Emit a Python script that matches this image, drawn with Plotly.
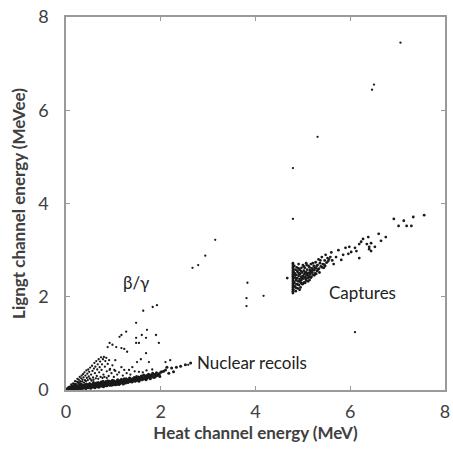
import plotly.graph_objects as go

# Nuclear recoil band (dense)
nr_pts = [
    (0.01, 0.00), (0.03, 0.01), (0.04, 0.00), (0.06, 0.02), (0.07, 0.01), (0.09, 0.03),
    (0.11, 0.01), (0.12, 0.04), (0.14, 0.02), (0.16, 0.05), (0.17, 0.01), (0.19, 0.03),
    (0.21, 0.06), (0.22, 0.02), (0.24, 0.04), (0.26, 0.07), (0.27, 0.03), (0.29, 0.05),
    (0.31, 0.09), (0.32, 0.02), (0.34, 0.06), (0.36, 0.04), (0.37, 0.08), (0.39, 0.11),
    (0.41, 0.05), (0.42, 0.03), (0.44, 0.07), (0.46, 0.10), (0.47, 0.05), (0.49, 0.12),
    (0.51, 0.08), (0.52, 0.04), (0.54, 0.10), (0.56, 0.06), (0.57, 0.13), (0.59, 0.09),
    (0.61, 0.05), (0.62, 0.11), (0.64, 0.15), (0.66, 0.08), (0.67, 0.12), (0.69, 0.06),
    (0.71, 0.10), (0.72, 0.14), (0.74, 0.17), (0.76, 0.09), (0.77, 0.12), (0.79, 0.07),
    (0.81, 0.15), (0.82, 0.11), (0.84, 0.18), (0.86, 0.09), (0.87, 0.13), (0.89, 0.16),
    (0.91, 0.11), (0.92, 0.19), (0.94, 0.14), (0.96, 0.10), (0.97, 0.17), (0.99, 0.13),
    (1.01, 0.20), (1.02, 0.15), (1.04, 0.11), (1.06, 0.18), (1.07, 0.14), (1.09, 0.22),
    (1.11, 0.16), (1.12, 0.12), (1.14, 0.19), (1.16, 0.15), (1.17, 0.23), (1.19, 0.17),
    (1.21, 0.13), (1.22, 0.21), (1.24, 0.18), (1.26, 0.15), (1.27, 0.24), (1.29, 0.19),
    (1.31, 0.16), (1.32, 0.22), (1.34, 0.26), (1.36, 0.18), (1.37, 0.21), (1.39, 0.17),
    (1.41, 0.24), (1.42, 0.20), (1.44, 0.27), (1.46, 0.19), (1.47, 0.23), (1.49, 0.29),
    (1.51, 0.21), (1.52, 0.25), (1.54, 0.19), (1.56, 0.27), (1.57, 0.23), (1.59, 0.30),
    (1.61, 0.22), (1.62, 0.26), (1.64, 0.32), (1.66, 0.24), (1.67, 0.28), (1.69, 0.22),
    (1.71, 0.31), (1.72, 0.26), (1.74, 0.34), (1.76, 0.28), (1.78, 0.24), (1.79, 0.32),
    (1.81, 0.29), (1.83, 0.36), (1.85, 0.27), (1.87, 0.33), (1.89, 0.30), (1.91, 0.37),
    (1.93, 0.31), (1.96, 0.35), (1.98, 0.29), (2.00, 0.38),
    (0.02, 0.02), (0.05, 0.03), (0.08, 0.05), (0.10, 0.02), (0.13, 0.07), (0.15, 0.03),
    (0.18, 0.08), (0.20, 0.04), (0.23, 0.09), (0.25, 0.05), (0.28, 0.10), (0.30, 0.06),
    (0.33, 0.12), (0.35, 0.07), (0.38, 0.05), (0.40, 0.09), (0.43, 0.13), (0.45, 0.06),
    (0.48, 0.09), (0.50, 0.14), (0.53, 0.07), (0.55, 0.11), (0.58, 0.16), (0.60, 0.08),
    (0.63, 0.12), (0.65, 0.10), (0.68, 0.16), (0.70, 0.13), (0.73, 0.08), (0.75, 0.14),
    (0.78, 0.19), (0.80, 0.10), (0.83, 0.14), (0.85, 0.12), (0.88, 0.20), (0.90, 0.15),
    (0.93, 0.12), (0.95, 0.16), (0.98, 0.21), (1.00, 0.14), (1.03, 0.17), (1.05, 0.13),
    (1.08, 0.20), (1.10, 0.17), (1.13, 0.15), (1.15, 0.21), (1.18, 0.19), (1.20, 0.16),
    (1.23, 0.24), (1.25, 0.20), (1.28, 0.17), (1.30, 0.22), (1.33, 0.19), (1.35, 0.25),
    (1.38, 0.23), (1.40, 0.18), (1.43, 0.22), (1.45, 0.26), (1.48, 0.21), (1.50, 0.25),
    (1.53, 0.28), (1.55, 0.22), (1.58, 0.26), (1.60, 0.29), (1.63, 0.24), (1.65, 0.27),
    (1.68, 0.30), (1.70, 0.25), (1.73, 0.29), (1.75, 0.32), (1.78, 0.27), (1.80, 0.31),
    (1.84, 0.33), (1.88, 0.28), (1.92, 0.34), (1.97, 0.32),
    (0.03, 0.02), (0.06, 0.04), (0.09, 0.02), (0.11, 0.06), (0.14, 0.04), (0.17, 0.06),
    (0.19, 0.10), (0.22, 0.05), (0.24, 0.08), (0.27, 0.06), (0.29, 0.11), (0.32, 0.07),
    (0.34, 0.10), (0.37, 0.06), (0.39, 0.08), (0.42, 0.10), (0.44, 0.12), (0.47, 0.08),
    (0.49, 0.06), (0.52, 0.11), (0.54, 0.08), (0.57, 0.10), (0.59, 0.13), (0.62, 0.09),
    (0.64, 0.07), (0.67, 0.10), (0.69, 0.14), (0.72, 0.11), (0.74, 0.10), (0.77, 0.16),
    (0.79, 0.13), (0.82, 0.09), (0.84, 0.12), (0.87, 0.16), (0.89, 0.13), (0.92, 0.10),
    (0.94, 0.17), (0.97, 0.14), (0.99, 0.11), (1.02, 0.13), (1.04, 0.16), (1.07, 0.12),
    (1.09, 0.15), (1.12, 0.18), (1.14, 0.14), (1.17, 0.16), (1.19, 0.20), (1.22, 0.15),
    (1.24, 0.17),
    (2.02, 0.39), (2.06, 0.40), (2.10, 0.43), (2.13, 0.49), (2.17, 0.36),
    (2.23, 0.47), (2.27, 0.39), (2.33, 0.49), (2.42, 0.51), (2.52, 0.54),
    (2.63, 0.58),
]

# Beta/gamma population
bg_pts = [
    (0.05, 0.06), (0.08, 0.07), (0.11, 0.12), (0.12, 0.08), (0.15, 0.14), (0.17, 0.10),
    (0.19, 0.19), (0.20, 0.13), (0.23, 0.18), (0.24, 0.24), (0.26, 0.15), (0.27, 0.22),
    (0.29, 0.28), (0.30, 0.19), (0.32, 0.25), (0.33, 0.31), (0.35, 0.22), (0.36, 0.34),
    (0.37, 0.27), (0.39, 0.38), (0.40, 0.21), (0.41, 0.31), (0.43, 0.42), (0.44, 0.26),
    (0.45, 0.35), (0.47, 0.44), (0.48, 0.29), (0.49, 0.39), (0.51, 0.48), (0.52, 0.23),
    (0.53, 0.33), (0.55, 0.52), (0.56, 0.41), (0.57, 0.27), (0.59, 0.46), (0.60, 0.58),
    (0.61, 0.36), (0.62, 0.50), (0.64, 0.62), (0.65, 0.30), (0.66, 0.44), (0.67, 0.55),
    (0.69, 0.66), (0.70, 0.38), (0.71, 0.49), (0.72, 0.61), (0.74, 0.70), (0.75, 0.43),
    (0.76, 0.55), (0.78, 0.66), (0.79, 0.33), (0.80, 0.71), (0.82, 0.50), (0.83, 0.62),
    (0.85, 0.69), (0.86, 0.40), (0.88, 0.56), (0.90, 0.30), (0.91, 0.64), (0.93, 0.45),
    (0.96, 0.36), (0.98, 0.53), (1.01, 0.28), (1.04, 0.41), (1.08, 0.33), (1.12, 0.38),
    (1.20, 0.31), (1.28, 0.36), (1.36, 0.33), (1.45, 0.40), (1.62, 0.38), (1.82, 0.44),
    (1.70, 0.42),
    (0.10, 0.07), (0.14, 0.10), (0.18, 0.13), (0.22, 0.12), (0.25, 0.17), (0.28, 0.16),
    (0.31, 0.14), (0.34, 0.18), (0.38, 0.16), (0.42, 0.19), (0.46, 0.21), (0.50, 0.25),
    (0.54, 0.20), (0.58, 0.22), (0.63, 0.25), (0.68, 0.24), (0.73, 0.28), (0.77, 0.26),
    (0.81, 0.28), (0.86, 0.26),
    (1.92, 1.82), (1.83, 1.78), (1.63, 1.70), (1.48, 1.44), (1.27, 1.25),
    (1.17, 1.18), (1.13, 1.14), (1.71, 1.29), (1.60, 1.18), (1.48, 1.12),
    (1.69, 1.12), (1.54, 1.01), (1.90, 1.18), (1.96, 1.01), (0.92, 1.01),
    (0.98, 0.97), (0.88, 0.92), (1.06, 0.92), (1.17, 0.90), (1.23, 0.88),
    (1.29, 0.82), (1.48, 1.01), (1.69, 0.79), (1.58, 0.66), (1.50, 0.60),
    (1.75, 0.60), (1.04, 0.64), (1.17, 0.49), (1.23, 0.43), (1.33, 0.43),
    (1.02, 0.43), (0.92, 0.43), (1.40, 0.49), (1.54, 0.39), (2.20, 0.64),
    (2.10, 0.60), (2.58, 0.54),
]

# Neutron capture population
cap_pts = [
    (4.79, 2.08), (4.79, 2.12), (4.79, 2.16), (4.79, 2.20), (4.79, 2.24),
    (4.79, 2.28), (4.79, 2.32), (4.79, 2.36), (4.79, 2.40), (4.79, 2.44),
    (4.79, 2.48), (4.79, 2.52), (4.79, 2.56), (4.79, 2.60), (4.79, 2.64),
    (4.79, 2.68), (4.79, 2.72),
    (4.80, 2.15), (4.81, 2.31), (4.81, 2.52), (4.82, 2.66), (4.83, 2.22), (4.83, 2.41),
    (4.84, 2.58), (4.85, 2.12), (4.85, 2.35), (4.86, 2.47), (4.87, 2.27), (4.87, 2.63),
    (4.88, 2.40), (4.89, 2.18), (4.89, 2.53), (4.90, 2.33), (4.91, 2.45), (4.91, 2.70),
    (4.92, 2.25), (4.93, 2.38), (4.93, 2.58), (4.94, 2.49), (4.95, 2.20), (4.95, 2.31),
    (4.96, 2.43), (4.97, 2.62), (4.97, 2.36), (4.98, 2.52), (4.99, 2.27), (5.00, 2.44),
    (5.00, 2.68), (5.01, 2.39), (5.02, 2.56), (5.03, 2.31), (5.03, 2.48), (5.04, 2.62),
    (5.05, 2.42), (5.06, 2.53), (5.07, 2.35), (5.07, 2.72), (5.08, 2.46), (5.09, 2.58),
    (5.10, 2.40), (5.11, 2.51), (5.12, 2.66), (5.13, 2.45), (5.14, 2.36), (5.15, 2.57),
    (5.16, 2.49), (5.17, 2.70), (5.18, 2.43), (5.19, 2.61), (5.20, 2.52), (5.22, 2.47),
    (5.23, 2.66), (5.24, 2.57), (5.26, 2.50), (5.27, 2.74), (5.28, 2.61), (5.30, 2.55),
    (5.31, 2.68), (5.33, 2.80), (5.34, 2.60), (5.36, 2.72), (5.38, 2.65), (5.40, 2.85),
    (5.42, 2.70), (5.44, 2.62), (5.46, 2.78), (5.48, 2.90), (5.50, 2.73), (5.52, 2.83),
    (4.82, 2.29), (4.84, 2.46), (4.86, 2.19), (4.88, 2.56), (4.90, 2.26), (4.92, 2.50),
    (4.94, 2.34), (4.96, 2.55), (4.98, 2.40), (5.01, 2.29), (5.04, 2.51), (5.06, 2.38),
    (5.09, 2.49), (5.12, 2.42), (5.15, 2.52), (5.18, 2.55), (5.21, 2.58), (5.25, 2.62),
    (5.29, 2.66),
    (4.83, 2.50), (4.87, 2.39), (4.91, 2.61), (4.93, 2.15), (4.97, 2.29), (5.02, 2.65),
    (5.05, 2.30), (5.08, 2.68), (5.11, 2.33), (5.14, 2.63), (5.17, 2.41), (5.21, 2.72),
    (5.24, 2.46), (5.32, 2.58), (5.37, 2.78), (5.41, 2.63), (5.45, 2.69), (5.35, 2.52),
    (5.28, 2.49), (5.47, 2.66), (5.53, 2.76), (5.58, 2.85), (5.62, 2.78),
    (5.55, 2.80), (5.60, 2.95), (5.65, 2.70), (5.70, 2.85), (5.75, 3.00),
    (5.81, 2.79), (5.85, 2.90), (5.90, 3.05), (5.96, 2.92), (5.98, 3.07),
    (6.02, 2.96), (6.10, 3.05), (6.13, 2.98), (6.19, 2.83), (6.19, 3.13),
    (6.23, 3.18), (6.27, 3.24), (6.35, 3.13), (6.38, 3.28), (6.40, 3.07),
    (6.40, 3.02), (6.44, 3.15), (6.44, 2.98), (6.52, 3.07), (6.60, 3.35),
    (6.65, 3.20), (6.75, 3.28), (6.92, 3.67), (7.02, 3.52), (7.13, 3.63),
    (7.19, 3.52), (7.29, 3.52), (7.33, 3.71), (7.56, 3.75), (4.67, 2.40),
]

# Isolated events
other_pts = [
    (7.06, 7.45), (6.50, 6.55), (6.46, 6.44), (5.31, 5.43), (4.79, 4.76),
    (4.79, 3.67), (3.15, 3.22), (2.94, 2.88), (2.79, 2.68), (2.67, 2.62),
    (3.83, 2.30), (3.81, 1.97), (3.81, 1.80), (4.17, 2.02), (6.10, 1.24),
]

x_ticks = [0, 2, 4, 6, 8]
y_ticks = [0, 2, 4, 6, 8]

labels = [
    ("β/γ", 1.17, 2.3),
    ("Nuclear recoils", 2.73, 0.58),
    ("Captures", 5.5, 2.1),
]

fig = go.Figure()
for pts, sz in [(nr_pts, 3), (bg_pts, 2.3), (cap_pts, 2.8), (other_pts, 2.3)]:
    fig.add_trace(go.Scatter(
        x=[p[0] for p in pts], y=[p[1] for p in pts], mode="markers",
        marker=dict(color="#1a1a1a", size=sz, line=dict(width=0)),
        showlegend=False, hoverinfo="skip",
    ))

for text, x, y in labels:
    fig.add_annotation(x=x, y=y, text=text, showarrow=False, xanchor="left",
                       yanchor="middle", font=dict(size=17, color="#222222", family="Lato"))

axis_common = dict(
    range=[0, 8], showgrid=False, zeroline=False, showline=True,
    linecolor="#9a9a9a", linewidth=1.5, mirror="ticks", ticks="inside",
    ticklen=4, tickcolor="#9a9a9a", tickwidth=1,
    tickfont=dict(size=18, color="#404040", family="Lato"),
    ticklabeloverflow="allow",
)

fig.update_xaxes(**axis_common, tickvals=x_ticks, ticklabelstandoff=5,
                 title=dict(text="<b>Heat channel energy (MeV)</b>", standoff=6,
                            font=dict(size=17, color="#404040", family="Lato")))
fig.update_yaxes(**axis_common, tickvals=y_ticks, ticklabelstandoff=12,
                 title=dict(text="<b>Ligngt channel energy (MeVee)</b>", standoff=8,
                            font=dict(size=17, color="#404040", family="Lato")))

fig.update_layout(
    width=453, height=449,
    margin=dict(l=66, r=3, t=17, b=59),
    plot_bgcolor="white", paper_bgcolor="white",
)

fig.write_html("out.html")
